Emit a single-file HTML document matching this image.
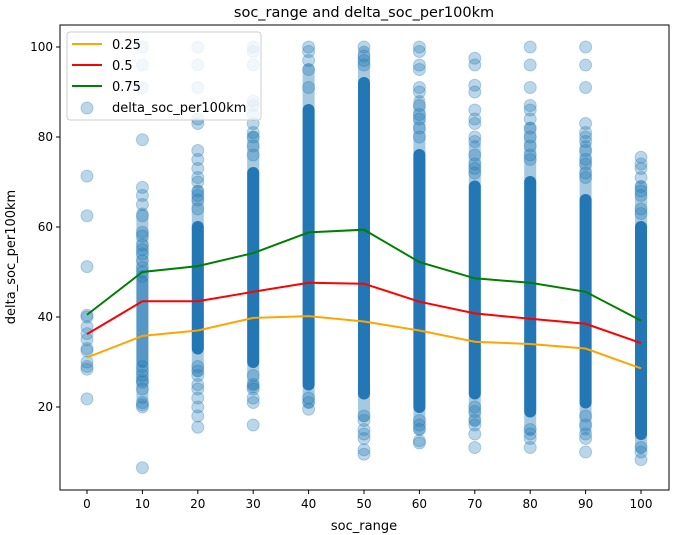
<!DOCTYPE html>
<html><head><meta charset="utf-8"><style>
body{margin:0;background:#fff;}
svg{display:block;font-family:"DejaVu Sans","Liberation Sans",sans-serif;}
</style></head><body>
<svg id="chart" width="675" height="535" viewBox="0 0 675 535">
<rect width="675" height="535" fill="#fff"/>
<text x="364" y="17" font-size="14.5" text-anchor="middle">soc_range and delta_soc_per100km</text>
<g id="marks"></g>
<rect x="60" y="25" width="609" height="465" fill="none" stroke="#000" stroke-width="1"/>
<g id="axes"></g>
<text x="364" y="530" font-size="13" text-anchor="middle">soc_range</text>
<text transform="translate(15,257) rotate(-90)" font-size="13" text-anchor="middle">delta_soc_per100km</text>
<g>
<rect x="67" y="32" width="194" height="88" rx="3" fill="#fff" fill-opacity="0.8" stroke="#ccc"/>
<line x1="72" y1="44" x2="102" y2="44" stroke="orange" stroke-width="2"/>
<text x="112" y="49" font-size="13">0.25</text>
<line x1="72" y1="65" x2="102" y2="65" stroke="red" stroke-width="2"/>
<text x="112" y="70" font-size="13">0.5</text>
<line x1="72" y1="86" x2="102" y2="86" stroke="green" stroke-width="2"/>
<text x="112" y="91" font-size="13">0.75</text>
<circle cx="87" cy="108" r="6" fill="#1f77b4" fill-opacity="0.3" stroke="#1f77b4" stroke-opacity="0.3"/>
<text x="112" y="112" font-size="13">delta_soc_per100km</text>
</g>
</svg>
<script>
const categories=[0,10,20,30,40,50,60,70,80,90,100];
const q25=[31,35.8,37,39.8,40.2,39,37,34.5,34,33,28.6];
const q50=[36.2,43.5,43.5,45.6,47.6,47.4,43.4,40.8,39.6,38.5,34.2];
const q75=[40.5,50,51.3,54.2,58.8,59.4,52.2,48.6,47.6,45.6,39.2];
const denseLo=[null,30,33,30,25,23,20,23,19,21,14];
const denseHi=[null,48,60,72,86,92,76,69,70,66,60];
const denseAlpha=[0,0.6,1,1,1,1,1,1,1,1,1];
const semiLo=[null,22,28,25,21,18,15,17,15,15,11];
const semiHi=[null,63,68,80,95,99,88,78,82,78,69];
const scatterPoints=[
[71.3,62.5,51.2,40.4,40,37.8,36.3,35,33,32.5,30,29,28.4,21.8],
[100,96,91,79.4,68.8,67,65,62.5,58.8,58,56,55,54,52.5,51,50,49,29,28,27,26,25.5,24,21,20.5,20,6.5],
[100,96,91,84,83,77,75,73,71,70,68,67,66,64,29,28,27,25,24,22,20,18,15.5],
[100,99,96,88,87,85,83,81,80,78,76,27,25,24.5,24,22,21,16],
[100,99,97,95,91,22,21,19.5],
[100,98,97,96,18,17,15,14,13,10.5,9.5],
[100,99,96,95,91,90,87,85,84,82,80,17,16,15,12.5,12],
[97.5,96,91.5,90,86,84,83,80,79,76,74,73,72,20,19,17,16,14,11],
[100,96,91,87,86,84,82,80,78,76,75,15,14,13,11],
[100,96,91,83,81,80,79,77,75,74,72,71,18,16,14,13,10],
[75.5,74,73,71,69,68,67,64,63,11,10,8.3]
];
const xTicks=[0,10,20,30,40,50,60,70,80,90,100];
const yTicks=[20,40,60,80,100];
const X=v=>87+v*5.54;
const Y=v=>47+(100-v)*4.5;
const NS="http://www.w3.org/2000/svg";
const marks=document.getElementById('marks');
const axes=document.getElementById('axes');
function mk(tag,attrs,parent){const e=document.createElementNS(NS,tag);for(const k in attrs)e.setAttribute(k,attrs[k]);parent.appendChild(e);return e;}
categories.forEach((c,i)=>{
 if(semiLo[i]!==null){
  const s=mk('rect',{x:X(c)-6,y:Y(semiHi[i])-6,width:12,height:Y(semiLo[i])-Y(semiHi[i])+12,rx:6,fill:'#1f77b4','fill-opacity':0.4},marks);
  
  
 }
 if(denseLo[i]!==null){
  const r=mk('rect',{x:X(c)-6,y:Y(denseHi[i])-6,width:12,height:Y(denseLo[i])-Y(denseHi[i])+12,rx:6,fill:'#2277b4','fill-opacity':denseAlpha[i]},marks);
  
  
 }
 scatterPoints[i].forEach(v=>{
  const p=mk('circle',{cx:X(c),cy:Y(v),r:6,fill:'#1f77b4','fill-opacity':0.3,stroke:'#1f77b4','stroke-opacity':0.3},marks);
  
  
 });
});
[[q25,'orange','line-q25'],[q50,'red','line-q50'],[q75,'green','line-q75']].forEach(([arr,col,nm])=>{
 const l=mk('polyline',{points:arr.map((v,i)=>X(categories[i])+','+Y(v)).join(' '),fill:'none',stroke:col,'stroke-width':2},marks);
 
 
});
xTicks.forEach(t=>{
 mk('line',{x1:X(t),x2:X(t),y1:490,y2:494,stroke:'#000'},axes);
 const tx=mk('text',{x:X(t),y:508,'font-size':12,'text-anchor':'middle'},axes);
 tx.textContent=t;
 
 
});
yTicks.forEach(t=>{
 mk('line',{x1:56,x2:60,y1:Y(t),y2:Y(t),stroke:'#000'},axes);
 const tx=mk('text',{x:53,y:Y(t)+4,'font-size':12,'text-anchor':'end'},axes);
 tx.textContent=t;
 
 
});
</script>
</body></html>
